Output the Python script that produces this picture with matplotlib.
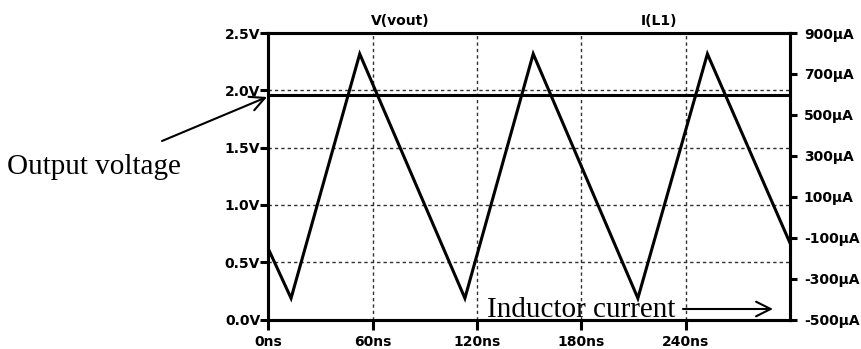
import numpy as np
import matplotlib
matplotlib.use("Agg")
import matplotlib.pyplot as plt

# Dati (LTspice)
tempo_ns = [0, 13, 52.5, 113, 152.3, 212.5, 252.5, 300]
corrente_uA = [-156, -396, 798, -396, 798, -396, 798, -126]

tempo_vout = [0, 300]
vout = [1.962, 1.962]

x_ticks = [0, 60, 120, 180, 240]
x_labels = ["0ns", "60ns", "120ns", "180ns", "240ns"]
v_ticks = [0.0, 0.5, 1.0, 1.5, 2.0, 2.5]
v_labels = ["0.0V", "0.5V", "1.0V", "1.5V", "2.0V", "2.5V"]
i_ticks = [900, 700, 500, 300, 100, -100, -300, -500]
i_labels = ["900µA", "700µA", "500µA", "300µA", "100µA", "-100µA", "-300µA", "-500µA"]

plt.rcParams['font.family'] = ['DejaVu Sans']

fig = plt.figure(figsize=(8.61, 3.49), dpi=100)
ax = fig.add_axes([0.3118, 0.0845, 0.6057, 0.8209])
ax2 = ax.twinx()

lw_spine = 2.2
for a in (ax, ax2):
    for s in a.spines.values():
        s.set_linewidth(lw_spine)

# Griglia tratteggiata
for t in x_ticks[1:]:
    ax.axvline(t, color='#303030', lw=1.0, ls=(0, (2.4, 2.2)), zorder=0)
for v in v_ticks[1:-1]:
    ax.axhline(v, color='#303030', lw=1.0, ls=(0, (2.4, 2.2)), zorder=0)

# Tensione di uscita
ax.plot(tempo_vout, vout, color='black', lw=2.2)
ax.set_xlim(0, 300)
ax.set_ylim(0, 2.5)
ax.set_xticks(x_ticks)
ax.set_xticklabels(x_labels)
ax.set_yticks(v_ticks)
ax.set_yticklabels(v_labels)

# Corrente induttore
ax2.plot(tempo_ns, corrente_uA, color='black', lw=2.2, solid_joinstyle='miter')
ax2.set_ylim(-500, 900)
ax2.set_yticks(i_ticks)
ax2.set_yticklabels(i_labels)

ax.tick_params(axis='x', direction='out', length=7, width=2.2, pad=4,
               labelsize=10)
ax.tick_params(axis='y', direction='out', length=6, width=2.2, pad=0,
               labelsize=10)
ax2.tick_params(axis='y', direction='out', length=5, width=2.2, pad=5,
                labelsize=10)
for lab in ax.get_xticklabels() + ax.get_yticklabels() + ax2.get_yticklabels():
    lab.set_fontweight('bold')

# Titoli delle tracce
fig.text(400 / 861, 1 - 21 / 349, "V(vout)", ha='center', va='center',
         fontsize=10, fontweight='bold')
fig.text(659 / 861, 1 - 21 / 349, "I(L1)", ha='center', va='center',
         fontsize=10, fontweight='bold')

# Annotazioni
serif = ['Liberation Serif', 'DejaVu Serif']
fig.text(7 / 861, 1 - 174 / 349, "Output voltage", family=serif,
         fontsize=21, ha='left', va='baseline')
fig.text(487 / 861, 1 - 317 / 349, "Inductor current", family=serif,
         fontsize=21, ha='left', va='baseline')

freccia = dict(arrowstyle='->,head_length=0.7,head_width=0.35', lw=1.5,
               color='black', mutation_scale=15, shrinkA=0, shrinkB=0)
fig.add_artist(plt.matplotlib.patches.FancyArrowPatch(
    (162, 349 - 141), (267, 349 - 97), transform=None, **freccia))
fig.add_artist(plt.matplotlib.patches.FancyArrowPatch(
    (683, 349 - 309), (773, 349 - 309), transform=None, **freccia))

fig.savefig("out.png", dpi=100)
